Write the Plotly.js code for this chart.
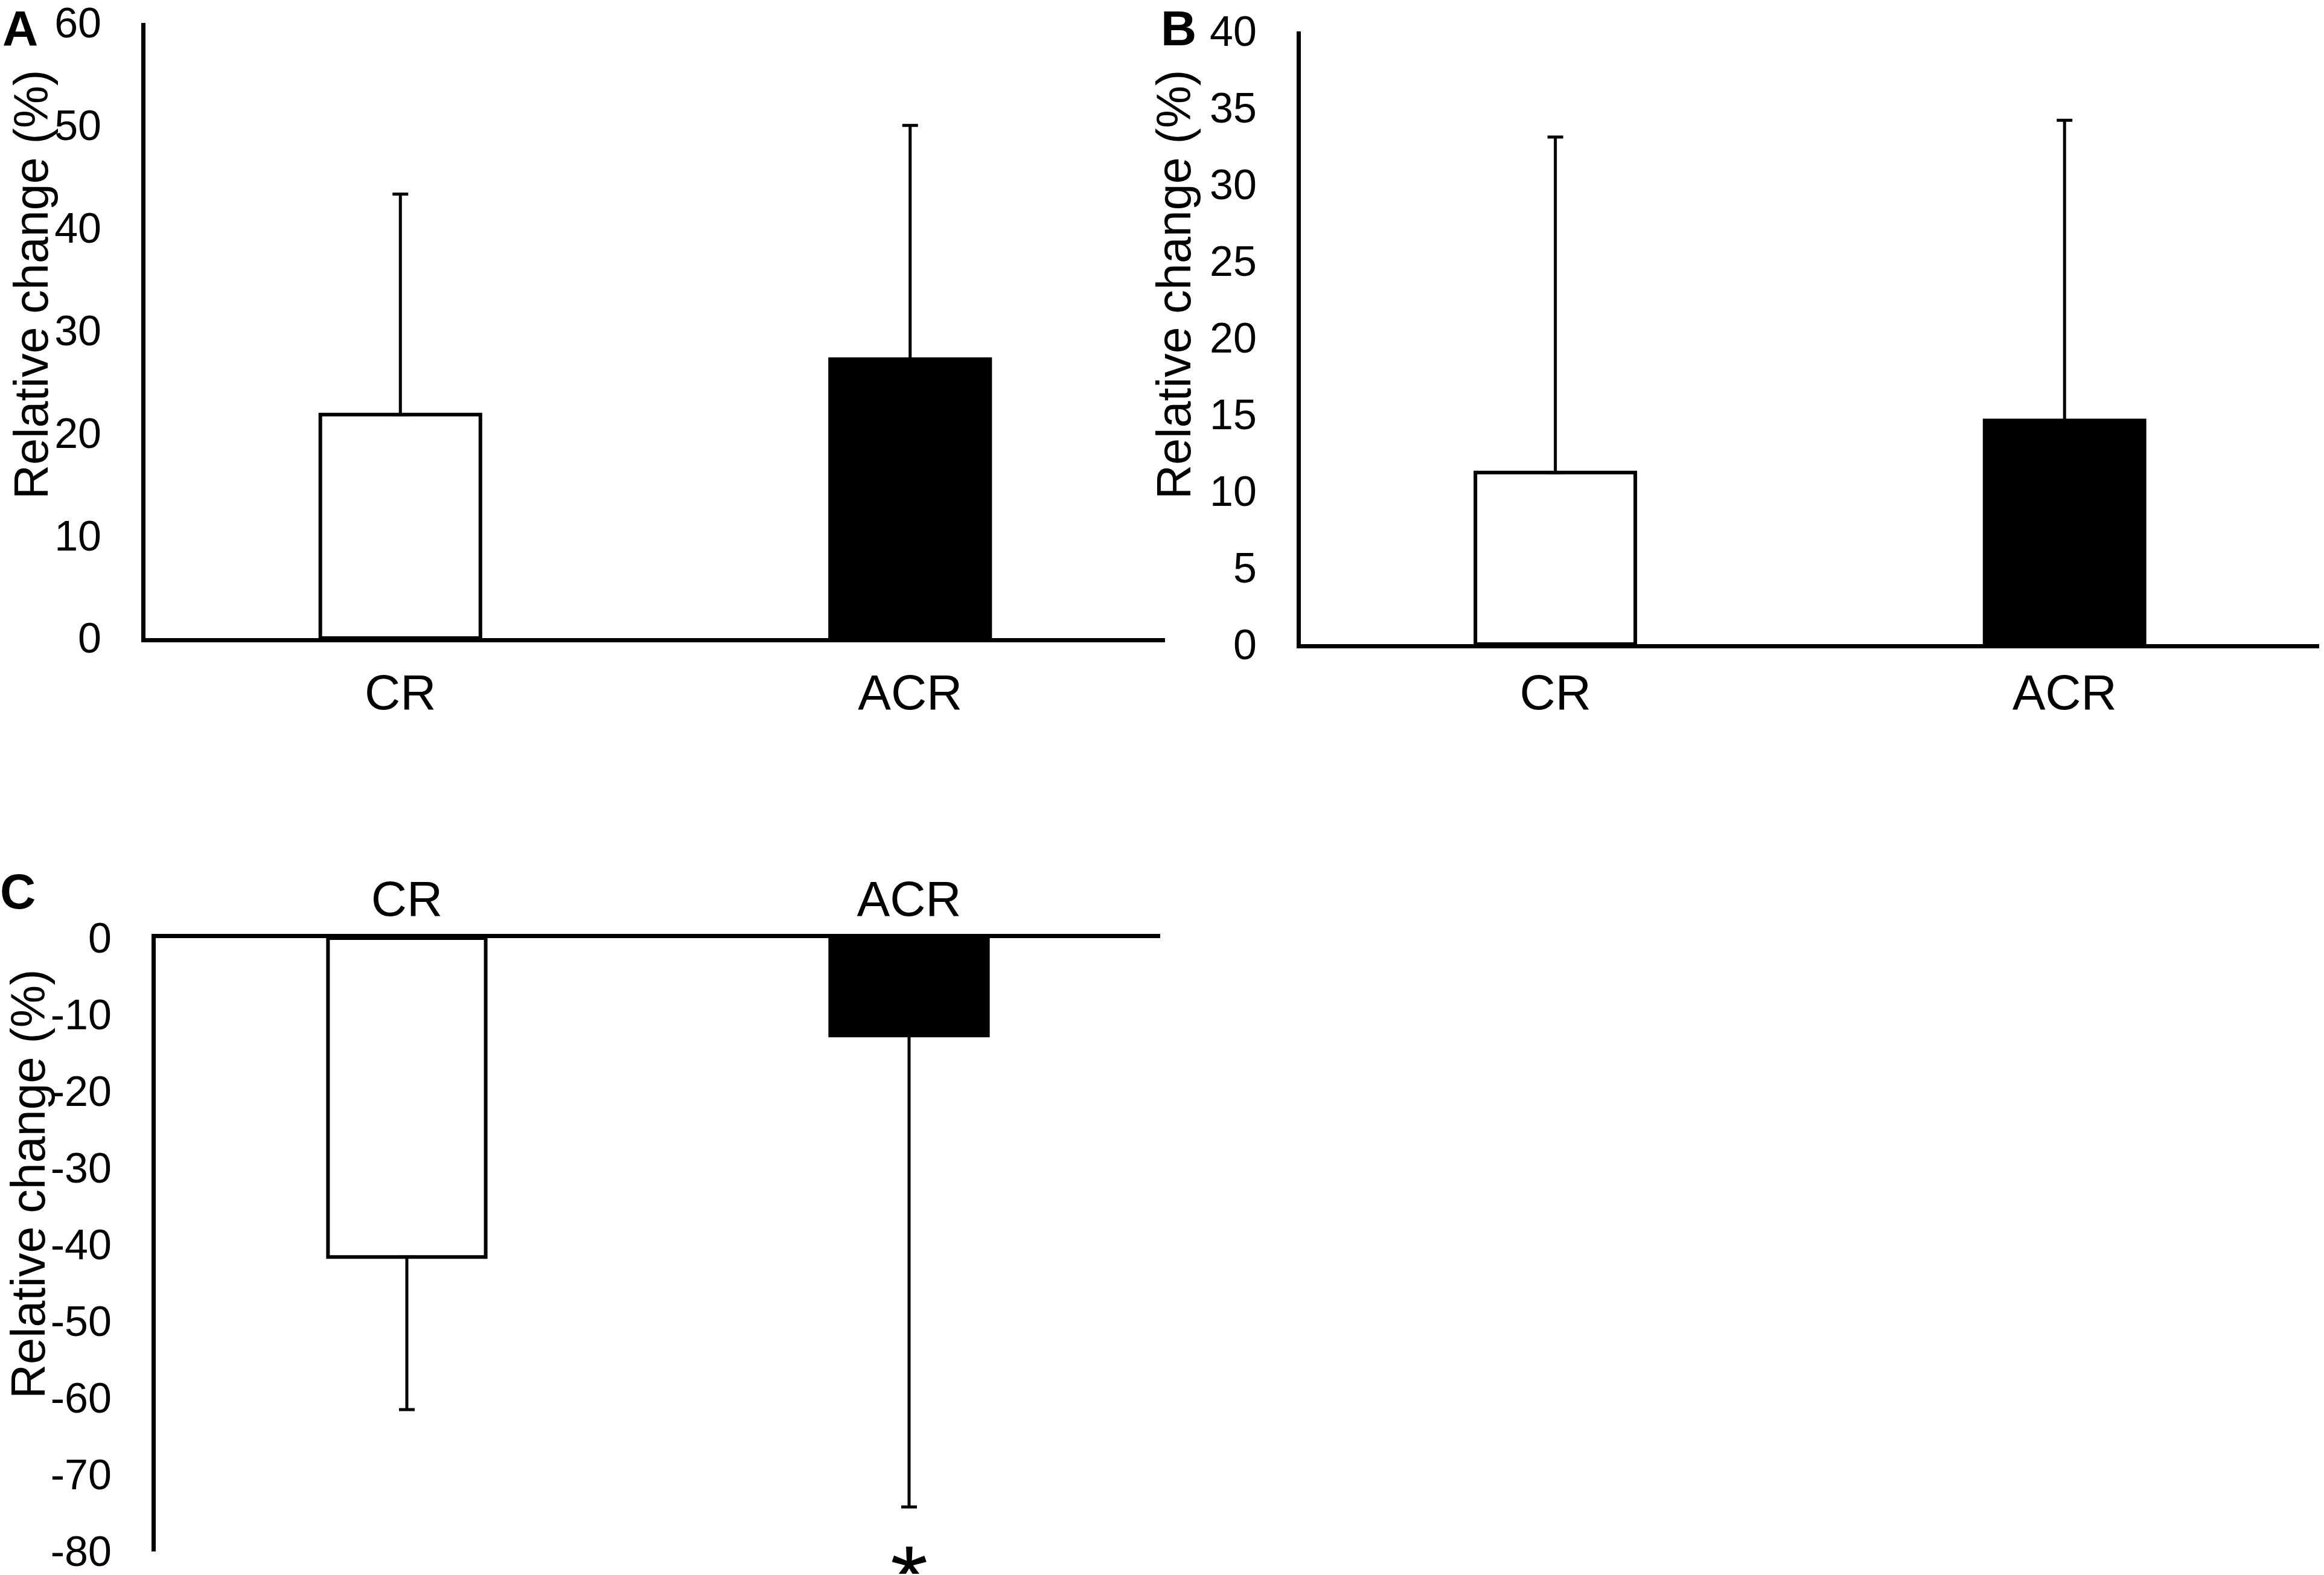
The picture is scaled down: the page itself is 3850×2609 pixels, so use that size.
<!DOCTYPE html>
<html>
<head>
<meta charset="utf-8">
<script src="https://cdn.plot.ly/plotly-3.0.1.min.js"></script>
<style>
  html, body { margin: 0; padding: 0; background: #ffffff; }
  #chart { width: 3850px; height: 2609px; }
</style>
</head>
<body>
<div id="chart"></div>
<script>
// ---- data ----
const categories = ['CR', 'ACR'];

// Panel A
const meanA = [21.8, 27.2];
const sdA = [21.5, 22.8];
const tickValsA = [0, 10, 20, 30, 40, 50, 60];
const tickTextA = ['0', '10', '20', '30', '40', '50', '60'];

// Panel B
const meanB = [11.2, 14.6];
const sdB = [21.9, 19.6];
const tickValsB = [0, 5, 10, 15, 20, 25, 30, 35, 40];
const tickTextB = ['0', '5', '10', '15', '20', '25', '30', '35', '40'];

// Panel C
const meanC = [-41.6, -12.7];
const sdC = [19.9, 61.5];
const tickValsC = [0, -10, -20, -30, -40, -50, -60, -70, -80];
const tickTextC = ['0', '-10', '-20', '-30', '-40', '-50', '-60', '-70', '-80'];

const barColors = ['#ffffff', '#000000'];
const yTitle = 'Relative change (%)';
const panelLetters = ['A', 'B', 'C'];
const sigMark = '*';

// ---- styling ----
const FONT = 'Liberation Sans, Arial, Helvetica, sans-serif';
const TICK_SIZE = 70;
const CAT_SIZE = 82;
const LINE_W = 7;

function barTrace(means, sds, xa, ya, up) {
  const zeros = means.map(() => 0);
  return {
    type: 'bar',
    x: categories,
    y: means,
    xaxis: xa,
    yaxis: ya,
    width: 0.314,
    marker: { color: barColors, line: { color: '#000000', width: 6 } },
    error_y: {
      type: 'data',
      symmetric: false,
      array: up ? sds : zeros,
      arrayminus: up ? zeros : sds,
      color: '#000000',
      thickness: 5,
      width: 13
    },
    hoverinfo: 'skip'
  };
}

function yAxis(domain, anchor, range, vals, text) {
  return {
    domain: domain,
    anchor: anchor,
    range: range,
    tickmode: 'array',
    tickvals: vals,
    ticktext: text,
    ticks: '',
    showgrid: false,
    zeroline: false,
    showline: true,
    linecolor: '#000000',
    linewidth: LINE_W,
    ticklabelstandoff: 52,
    ticklabeloverflow: 'allow',
    tickfont: { family: FONT, size: TICK_SIZE, color: '#000000' },
    fixedrange: true
  };
}

function xAxis(domain, anchor, side, standoff) {
  return {
    domain: domain,
    anchor: anchor,
    side: side,
    type: 'category',
    range: [-0.5, 1.5],
    ticks: '',
    showgrid: false,
    zeroline: false,
    showline: true,
    linecolor: '#000000',
    linewidth: LINE_W,
    ticklabelstandoff: standoff,
    ticklabeloverflow: 'allow',
    tickfont: { family: FONT, size: CAT_SIZE, color: '#000000' },
    fixedrange: true
  };
}

const data = [
  barTrace(meanA, sdA, 'x', 'y', true),
  barTrace(meanB, sdB, 'x2', 'y2', true),
  barTrace(meanC, sdC, 'x3', 'y3', false)
];

function titleAnn(x, y) {
  return {
    xref: 'paper', yref: 'paper', x: x, y: y,
    xanchor: 'center', yanchor: 'middle',
    text: yTitle, textangle: -90, showarrow: false,
    font: { family: FONT, size: 79, color: '#000000' }
  };
}
function letterAnn(letter, x, yTopPx) {
  return {
    xref: 'paper', yref: 'paper', x: x, y: 1 - yTopPx / 2609,
    xanchor: 'center', yanchor: 'top', borderpad: 0,
    text: '<b>' + letter + '</b>', showarrow: false,
    font: { family: FONT, size: 82, color: '#000000' }
  };
}

const layout = {
  width: 3850,
  height: 2609,
  margin: { l: 0, r: 0, t: 0, b: 0, pad: 0 },
  paper_bgcolor: '#ffffff',
  plot_bgcolor: '#ffffff',
  showlegend: false,
  font: { family: FONT, color: '#000000' },
  xaxis: xAxis([0.0626, 0.5013], 'y', 'bottom', 13),
  yaxis: yAxis([0.5949, 0.98544], 'x', [0, 60], tickValsA, tickTextA),
  xaxis2: xAxis([0.5597, 0.99792], 'y2', 'bottom', 3),
  yaxis2: yAxis([0.59103, 0.98007], 'x2', [0, 40], tickValsB, tickTextB),
  xaxis3: xAxis([0.06701, 0.49922], 'y3', 'top', -3),
  yaxis3: yAxis([0.014948, 0.40437], 'x3', [-80, 0], tickValsC, tickTextC),
  annotations: [
    titleAnn(52 / 3850, 1 - 472 / 2609),
    titleAnn(1945 / 3850, 1 - 472 / 2609),
    titleAnn(46 / 3850, 1 - 1962 / 2609),
    letterAnn(panelLetters[0], 33 / 3850, 0),
    letterAnn(panelLetters[1], 1952 / 3850, 0),
    letterAnn(panelLetters[2], 29 / 3850, 1430),
    {
      xref: 'x3', yref: 'paper', x: 'ACR', y: 1 - 2526 / 2609,
      xanchor: 'center', yanchor: 'top',
      height: 80, valign: 'top', borderpad: 0,
      text: sigMark, showarrow: false,
      font: { family: FONT, size: 160, color: '#000000' }
    }
  ]
};

Plotly.newPlot('chart', data, layout, { staticPlot: true, displayModeBar: false });
</script>
</body>
</html>
